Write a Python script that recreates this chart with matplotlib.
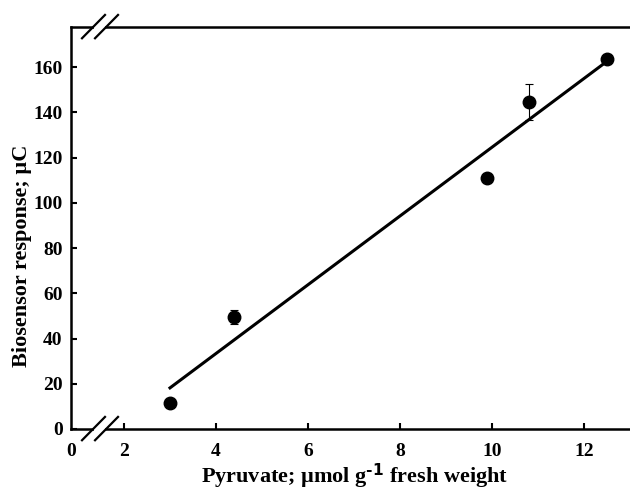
import numpy as np
import matplotlib
matplotlib.use('Agg')
import matplotlib.pyplot as plt

plt.rcParams['font.family'] = 'Liberation Serif'
plt.rcParams['font.weight'] = 'bold'
plt.rcParams['mathtext.default'] = 'regular'

# pyruvate content vs biosensor charge
pyruvate = [3.0, 4.4, 9.9, 10.8, 12.5]
response = [11.6, 49.4, 110.8, 144.7, 163.4]
response_err = [0.0, 3.2, 0.0, 8.0, 0.0]

xticks = [2, 4, 6, 8, 10, 12]
yticks = [0, 20, 40, 60, 80, 100, 120, 140, 160]

# x axis is broken between 0 and 2, so "0" sits on the left spine
x_origin = 0.848
x_max = 13.0
y_max = 177.7


def draw_break(ax, y):
    """Two slashes across a horizontal spine, with a gap in the spine."""
    tr = ax.transAxes
    ax.plot([0.041, 0.061], [y, y], color='white', lw=3, transform=tr,
            clip_on=False, zorder=3, solid_capstyle='butt')
    for dx in (0.0, 0.0233):
        ax.plot([0.0197 + dx, 0.0608 + dx], [y - 0.028, y + 0.030],
                color='black', lw=1.6, transform=tr, clip_on=False, zorder=4)


fig = plt.figure(figsize=(6.3, 4.91), dpi=100)
ax = fig.add_axes([0.1127, 0.1263, 0.8873, 0.8187])

slope, intercept = np.polyfit(pyruvate, response, 1)
fit_x = np.array([min(pyruvate), max(pyruvate)])
ax.plot(fit_x, slope * fit_x + intercept, color='black', lw=2.2, zorder=2)

ax.errorbar(pyruvate, response, yerr=response_err, fmt='o', color='black',
            markersize=9, elinewidth=0.8, capsize=3, capthick=0.8, zorder=3)

ax.set_xlim(x_origin, x_max)
ax.set_ylim(0, y_max)
ax.set_xticks(xticks)
ax.set_yticks(yticks)
ax.tick_params(axis='both', direction='in', width=1.5, labelsize=14)
ax.tick_params(axis='x', length=4.5, pad=10)
ax.tick_params(axis='y', length=4.5, pad=6)
ax.text(x_origin, -0.034, '0', transform=ax.get_xaxis_transform(),
        ha='center', va='top', fontsize=14, fontweight='bold')

ax.spines['right'].set_visible(False)
for side in ('left', 'bottom', 'top'):
    ax.spines[side].set_linewidth(1.8)

draw_break(ax, 0.0)
draw_break(ax, 1.0)

ax.set_xlabel(r'Pyruvate; ' + '\u00b5' + r'mol g$^{\text{-1}}$ fresh weight',
              fontsize=16, fontweight='bold')
ax.set_ylabel('Biosensor response; \u00b5C', fontsize=16, fontweight='bold')
ax.xaxis.set_label_coords(0.508, -0.08)
ax.yaxis.set_label_coords(-0.07, 0.43)

fig.savefig('out.png', dpi=100)
